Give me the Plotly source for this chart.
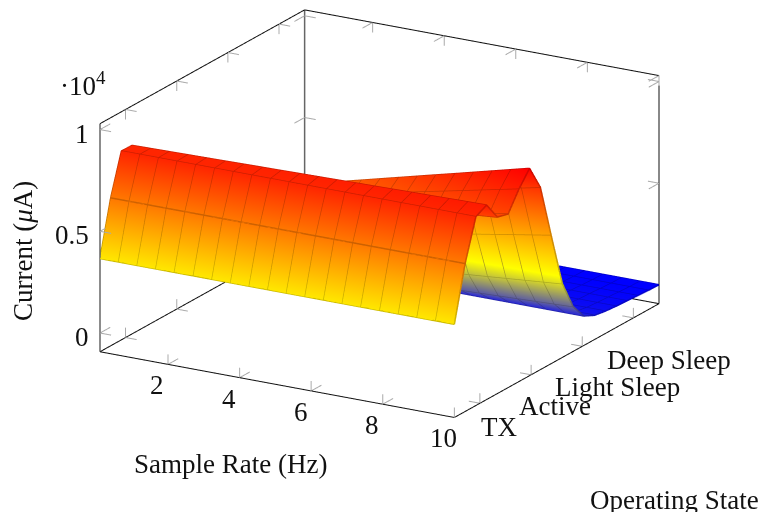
import plotly.graph_objects as go

sample_rate = [0.1, 0.62, 1.14, 1.66, 2.18, 2.71, 3.23, 3.75, 4.27, 4.79,
               5.31, 5.83, 6.35, 6.87, 7.39, 7.92, 8.44, 8.96, 9.48, 10]
state_pos = [0.5, 0.71, 0.92, 1.13, 1.34, 1.55, 1.76, 1.97, 2.18, 2.39,
             2.61, 2.82, 3.03, 3.24, 3.45, 3.66, 3.87, 4.08, 4.29, 4.5]
current = [
 [3660]*20,
 [6350]*20,
 [8360]*20,
 [8340,8356,8372,8387,8403,8419,8435,8451,8466,8482,8498,8514,8530,8545,8561,8577,8593,8609,8624,8640],
 [6271,6349,6427,6506,6584,6662,6740,6818,6897,6975,7053,7131,7209,7288,7366,7444,7522,7600,7678,7756],
 [4640,4796,4953,5109,5265,5422,5578,5734,5890,6047,6203,6359,6516,6672,6828,6984,7141,7297,7453,7610],
 [4804,5000,5197,5393,5590,5786,5982,6179,6375,6572,6768,6964,7161,7357,7554,7750,7946,8143,8339,8536],
 [4813,5048,5282,5517,5751,5986,6220,6455,6689,6924,7158,7392,7627,7861,8096,8330,8565,8799,9034,9268],
 [4387,4580,4773,4965,5158,5351,5544,5737,5929,6122,6315,6508,6701,6893,7086,7279,7472,7665,7857,8050],
 [2445,2601,2758,2914,3070,3227,3383,3539,3695,3852,4008,4164,4321,4477,4633,4789,4946,5102,5258,5415],
 [1222,1300,1378,1457,1535,1613,1691,1769,1848,1926,2004,2082,2160,2239,2317,2395,2473,2551,2629,2707],
 [627,662,697,732,767,801,836,871,906,941,976,1011,1046,1081,1116,1150,1185,1220,1255,1290],
 [530]*20,
 [270]*20,
 [180]*20,
 [130]*20,
 [100]*20,
 [60]*20,
 [30]*20,
 [10]*20,
]
x_ticks = [2, 4, 6, 8, 10]
y_ticks = [1, 2, 3, 4]
y_labels = ["TX", "Active", "Light Sleep", "Deep Sleep"]
z_ticks = [0, 5000, 10000]
z_labels = ["0", "0.5", "1"]

X0, X1 = 0.1, 10
Y0, Y1 = 0.5, 4.5
Z0, Z1 = -920, 10290

FONT = dict(family="Liberation Serif", size=27, color="#111111")
flat = [v for row in current for v in row]
cmin, cmax = min(flat), max(flat)
hot = [[0, "rgb(0,0,255)"], [1/3, "rgb(255,255,0)"], [2/3, "rgb(255,128,0)"], [1, "rgb(255,0,0)"]]
hot_dark = [[0, "rgb(0,0,204)"], [1/3, "rgb(204,204,0)"], [2/3, "rgb(204,102,0)"], [1, "rgb(204,0,0)"]]

fig = go.Figure()
fig.add_trace(go.Surface(x=sample_rate, y=state_pos, z=current, colorscale=hot, cmin=cmin, cmax=cmax,
                         showscale=False, hoverinfo="skip",
                         lighting=dict(ambient=1, diffuse=0, specular=0, roughness=1, fresnel=0)))

# mesh lines
mx, my, mz = [], [], []
for i, y in enumerate(state_pos):
    mx += sample_rate + [None]; my += [y]*20 + [None]; mz += current[i] + [None]
for j, x in enumerate(sample_rate):
    mx += [x]*20 + [None]; my += state_pos + [None]; mz += [row[j] for row in current] + [None]
fig.add_trace(go.Scatter3d(x=mx, y=my, z=mz, mode="lines", hoverinfo="skip", showlegend=False,
                           line=dict(width=3, color=[0 if v is None else v for v in mz],
                                     colorscale=hot_dark, cmin=cmin, cmax=cmax)))


def segs(lst):
    xs, ys, zs = [], [], []
    for a, b in lst:
        xs += [a[0], b[0], None]; ys += [a[1], b[1], None]; zs += [a[2], b[2], None]
    return xs, ys, zs


edges = [((X0, Y0, Z1), (X0, Y1, Z1)), ((X0, Y1, Z1), (X1, Y1, Z1)), ((X1, Y1, Z1), (X1, Y1, Z0)),
         ((X0, Y0, Z0), (X1, Y0, Z0)), ((X1, Y0, Z0), (X1, Y1, Z0)),
         ((X0, Y1, Z0), (X0, Y0, Z0)), ((X0, Y1, Z0), (X1, Y1, Z0))]
ex, ey, ez = segs(edges)
fig.add_trace(go.Scatter3d(x=ex, y=ey, z=ez, mode="lines", hoverinfo="skip", showlegend=False,
                           line=dict(width=2, color="#111111")))
vx, vy, vz = segs([((X0, Y0, Z1), (X0, Y0, Z0)), ((X0, Y1, Z1), (X0, Y1, Z0))])
fig.add_trace(go.Scatter3d(x=vx, y=vy, z=vz, mode="lines", hoverinfo="skip", showlegend=False,
                           line=dict(width=3, color="#666666")))

DX, DY, DZ = 0.31, 0.2, 490
ticks = []
for x in x_ticks:
    ticks += [((x, Y0, Z0), (x, Y0 + DY, Z0)), ((x, Y0, Z0), (x, Y0, Z0 + DZ)),
              ((x, Y1, Z1), (x, Y1 - DY, Z1)), ((x, Y1, Z1), (x, Y1, Z1 - DZ))]
for y in y_ticks:
    ticks += [((X1, y, Z0), (X1 - DX, y, Z0)), ((X1, y, Z0), (X1, y, Z0 + DZ)),
              ((X0, y, Z0), (X0 + DX, y, Z0)), ((X0, y, Z0), (X0, y, Z0 + DZ)),
              ((X0, y, Z1), (X0 + DX, y, Z1)), ((X0, y, Z1), (X0, y, Z1 - DZ))]
for z in z_ticks:
    ticks += [((X0, Y0, z), (X0 + DX, Y0, z)), ((X0, Y0, z), (X0, Y0 + DY, z)),
              ((X0, Y1, z), (X0 + DX, Y1, z)), ((X0, Y1, z), (X0, Y1 - DY, z)),
              ((X1, Y1, z), (X1 - DX, Y1, z)), ((X1, Y1, z), (X1, Y1 - DY, z))]
tx, ty, tz = segs(ticks)
fig.add_trace(go.Scatter3d(x=tx, y=ty, z=tz, mode="lines", hoverinfo="skip", showlegend=False,
                           line=dict(width=2, color="#aaaaaa")))

ann = []
for x in x_ticks:
    ann.append(dict(x=x, y=Y0, z=Z0, text=str(x), showarrow=False, font=FONT, xshift=-10.5, yshift=-21))
y_shift = [(19.4, -24), (24, -31), (35, -41), (36, -42)]
for y, t, (sx, sy) in zip(y_ticks, y_labels, y_shift):
    ann.append(dict(x=X1, y=y, z=Z0, text=t, showarrow=False, font=FONT, xshift=sx, yshift=sy))
for z, t in zip(z_ticks, z_labels):
    ann.append(dict(x=X0, y=Y0, z=z, text=t, showarrow=False, font=FONT, xanchor="right", xshift=-9, yshift=-4))
ann.append(dict(x=X0, y=Y0, z=Z1, text="·10<sup>4</sup>", showarrow=False, font=FONT,
                xanchor="right", xshift=8, yshift=40))

hidden = dict(showgrid=False, showline=False, zeroline=False, showticklabels=False, ticks="",
              showbackground=False, showspikes=False, title="")
R = 2.0
CX, CY, CZ = 0.0034, 0.002, -0.1746
W, H = 761, 512
PX = 0.002 * (X1 - X0)
PY = 0.002 * (Y1 - Y0)
PZ = 0.002 * (Z1 - Z0)
fig.update_layout(
    width=W, height=H, margin=dict(l=0, r=0, t=0, b=0), paper_bgcolor="white", showlegend=False,
    scene=dict(
        domain=dict(x=[0, 1], y=[0, 1]),
        xaxis=dict(range=[X0 - PX, X1 + PX], **hidden),
        yaxis=dict(range=[Y0 - PY, Y1 + PY], **hidden),
        zaxis=dict(range=[Z0 - PZ, Z1 + PZ], **hidden),
        aspectmode="manual", aspectratio=dict(x=1.605, y=1.605, z=0.9445),
        camera=dict(projection=dict(type="orthographic"),
                    eye=dict(x=0.4735*R + CX, y=-0.820*R + CY, z=0.3211*R + CZ),
                    center=dict(x=CX, y=CY, z=CZ), up=dict(x=0, y=0, z=1)),
        annotations=ann,
    ),
    annotations=[
        dict(xref="paper", yref="paper", x=230.5/W, y=1-464/H, text="Sample Rate (Hz)", showarrow=False, font=FONT,
             xanchor="center", yanchor="middle"),
        dict(xref="paper", yref="paper", x=674/W, y=1-500/H, text="Operating State", showarrow=False, font=FONT,
             xanchor="center", yanchor="middle"),
        dict(xref="paper", yref="paper", x=23/W, y=1-251/H, text="Current (<i>μ</i>A)", showarrow=False,
             font=FONT, textangle=-90, xanchor="center", yanchor="middle"),
    ],
)
fig.write_html("out.html", post_script="document.body.style.margin='0';",
               config=dict(displayModeBar=False))
